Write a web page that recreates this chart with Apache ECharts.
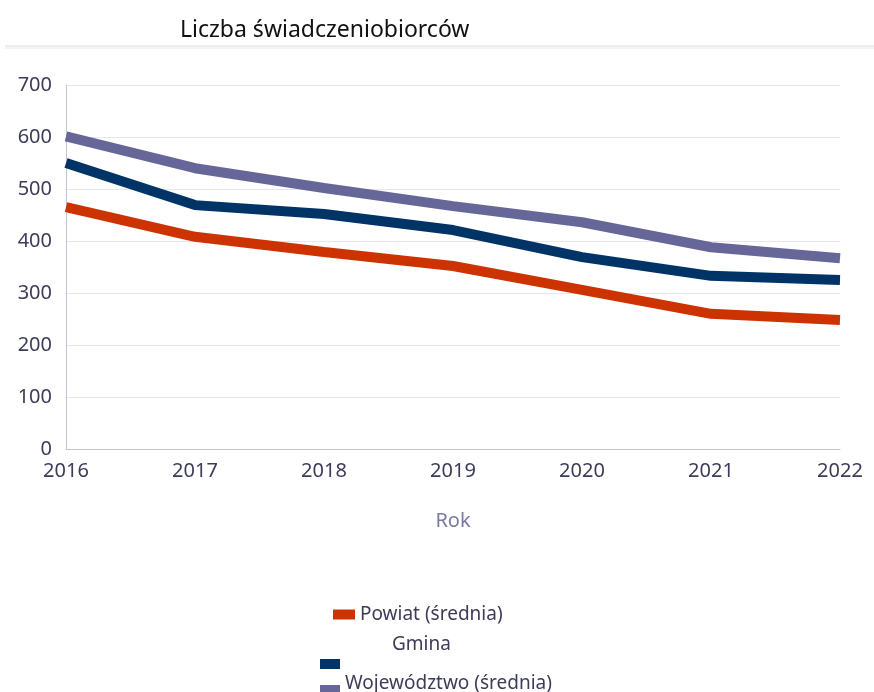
<!DOCTYPE html>
<html><head><meta charset="utf-8">
<script src="https://cdn.jsdelivr.net/npm/echarts@6/dist/echarts.min.js"></script>
<style>html,body{margin:0;padding:0;background:#fff}#c{width:874px;height:692px}</style>
</head><body><div id="c"></div>
<script>
const years = ['2016','2017','2018','2019','2020','2021','2022'];
const powiat = [465, 408, 379, 352, 306, 260, 248];
const gmina = [550, 469, 452, 421, 369, 333, 325];
const wojewodztwo = [601, 540, 502, 467, 436, 388, 367];
const yTicks = {min: 0, max: 700, interval: 100};

const FONT = '"Noto Sans", "Open Sans", sans-serif';
const TXT = '#3c3c5a';
const chart = echarts.init(document.getElementById('c'));
const legendBase = {
  orient: 'horizontal', itemWidth: 22, itemHeight: 10, itemGap: 5,
  textStyle: {fontFamily: FONT, fontSize: 19, color: TXT}, icon: 'rect', padding: 0
};
chart.setOption({
  animation: false,
  title: {text: 'Liczba świadczeniobiorców', left: 175, top: 14,
    textStyle: {fontFamily: FONT, fontSize: 23, fontWeight: 'normal', color: '#111'}},
  graphic: [
    {type: 'line', shape: {x1: 5, y1: 46, x2: 874, y2: 46}, style: {stroke: '#dcdce4', lineWidth: 1}},
    {type: 'line', shape: {x1: 5, y1: 48, x2: 874, y2: 48}, style: {stroke: '#e8e8ee', lineWidth: 1}}
  ],
  grid: {left: 66, right: 34, top: 85, bottom: 243, containLabel: false},
  legend: [
    Object.assign({}, legendBase, {data: ['Powiat (średnia)'], left: 333, top: 605}),
    Object.assign({}, legendBase, {data: [{name: 'Gmina', icon: 'none'}], itemWidth: 0, itemGap: 0, left: 387, top: 635}),
    Object.assign({}, legendBase, {data: ['Gmina'], formatter: () => '', left: 320, top: 659, itemWidth: 20}),
    Object.assign({}, legendBase, {data: ['Województwo (średnia)'], formatter: () => '', left: 320, top: 685, itemWidth: 20}),
    Object.assign({}, legendBase, {data: [{name: 'Województwo (średnia)', icon: 'none'}], itemWidth: 0, itemGap: 0, left: 340, top: 674})
  ],
  xAxis: {
    type: 'category', data: years, boundaryGap: false,
    axisLine: {lineStyle: {color: '#c4c4d8', width: 1}},
    axisTick: {show: false},
    axisLabel: {fontFamily: FONT, fontSize: 20, color: TXT, margin: 12},
    name: 'Rok', nameLocation: 'middle', nameGap: 62,
    nameTextStyle: {fontFamily: FONT, fontSize: 20, color: '#7a7aa0'}
  },
  yAxis: {
    type: 'value', min: yTicks.min, max: yTicks.max, interval: yTicks.interval,
    axisLine: {show: true, lineStyle: {color: '#c4c4d8', width: 1}},
    axisTick: {show: false},
    axisLabel: {fontFamily: FONT, fontSize: 20, color: TXT, margin: 14},
    splitLine: {lineStyle: {color: '#e6e6ee', width: 1}}
  },
  series: [
    {name: 'Powiat (średnia)', type: 'line', data: powiat, symbol: 'none', lineStyle: {width: 10, color: '#cc3300'}, itemStyle: {color: '#cc3300'}},
    {name: 'Gmina', type: 'line', data: gmina, symbol: 'none', lineStyle: {width: 10, color: '#003366'}, itemStyle: {color: '#003366'}},
    {name: 'Województwo (średnia)', type: 'line', data: wojewodztwo, symbol: 'none', lineStyle: {width: 10, color: '#666699'}, itemStyle: {color: '#666699'}}
  ]
});
</script></body></html>
